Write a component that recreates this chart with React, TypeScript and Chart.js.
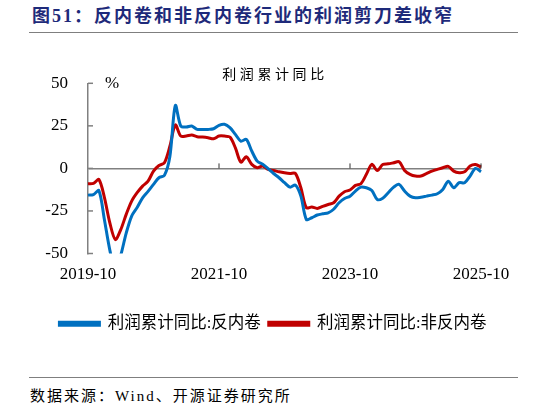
import { useEffect, useRef } from "react"
import { Chart, registerables, type ChartConfiguration, type Plugin } from "chart.js"

Chart.register(...registerables)

// monthly, 2019-10 .. 2025-10
const months: string[] = []
for (let y = 2019; y <= 2025; y++) {
  for (let m = 1; m <= 12; m++) {
    if ((y === 2019 && m < 10) || (y === 2025 && m > 10)) continue
    months.push(`${y}-${String(m).padStart(2, "0")}`)
  }
}

const shownLabels = ["2019-10", "2021-10", "2023-10", "2025-10"]
const yTicks = [50, 25, 0, -25, -50]

// 利润累计同比:反内卷
const antiInvolution = [
  -15.7, -15.4, -13, -30, -48, -60, -51, -38, -28, -23, -17.3, -13.5, -9.4, -5.5, -4.1, 7,
  37, 24.9, 24.3, 24.9, 22.9, 22.9, 22.9, 23.3, 25.3, 25.9, 23.9, 20, 16, 17, 10.2, 4.3,
  2.4, -0.2, -3, -5.5, -8.4, -11, -9.8, -16.3, -30, -29, -27.4, -26.7, -26.1, -24, -20.2, -17.7,
  -16.3, -13.3, -11, -11.4, -13, -18.3, -17.5, -14.3, -11, -9.4, -13.3, -16.3, -17.3, -16.9, -16.3, -15.7,
  -14.9, -12.4, -7.5, -11.4, -8.4, -8.4, -4.5, 0, -2,
]

// 利润累计同比:非反内卷
const nonAntiInvolution = [
  -9, -8.8, -6.5, -17, -32, -41.8, -36, -27, -19.2, -14.3, -10.4, -7.5, -1.6, 1.7, 3.3, 13,
  25.5, 19, 19, 19.6, 18.6, 18.4, 18, 17.4, 19, 19, 18.4, 12.1, 3.7, 6.8, 2.4, 0.4,
  1.4, -0.6, -1.2, -2, -2.6, -3, -3, -11.4, -23.1, -22.7, -23.5, -22.3, -21.2, -20.2, -16.3, -13.7,
  -12.7, -10, -9, -3.5, 2.4, -1.2, 2.3, 2.7, 3.3, 3.9, -1.2, -3.5, -4.5, -4.5, -3.1, -1.6,
  -0.6, 0.4, 1.2, -1.6, -2.5, -2, 1.4, 2.3, 0.8,
]

const FONT = '"Liberation Serif", "Noto Sans CJK SC"'
const chartTitle = "利润累计同比"

// inward y ticks, small x ticks on the zero line, "%" unit and the spaced-out title
const axisMarks: Plugin<"line"> = {
  id: "axisMarks",
  afterDraw(chart) {
    const { ctx, chartArea, scales } = chart
    const x = scales.x
    const y = scales.y
    ctx.save()
    ctx.strokeStyle = "#808080"
    ctx.lineWidth = 1.5
    y.ticks.forEach((_, i) => {
      const py = y.getPixelForTick(i)
      ctx.beginPath()
      ctx.moveTo(chartArea.left, py)
      ctx.lineTo(chartArea.left + 5, py)
      ctx.stroke()
    })
    const zeroY = y.getPixelForValue(0)
    ctx.strokeStyle = "#333"
    ctx.lineWidth = 1
    months.forEach((m, i) => {
      if (i === 0 || !shownLabels.includes(m)) return
      const px = x.getPixelForValue(i)
      ctx.beginPath()
      ctx.moveTo(px, zeroY)
      ctx.lineTo(px, zeroY - 5)
      ctx.stroke()
    })
    ctx.fillStyle = "#000"
    ctx.font = `17px ${FONT}`
    ctx.textBaseline = "middle"
    ctx.textAlign = "center"
    ctx.fillText("%", chartArea.left + 24, y.getPixelForValue(50))

    ctx.font = `14px ${FONT}`
    ;(ctx as any).letterSpacing = "3.6px"
    ctx.fillText(chartTitle, chart.width / 2 + 2, 35)
    ctx.restore()
  },
}

function ProfitChart() {
  const canvasRef = useRef<HTMLCanvasElement>(null)
  const chartInstance = useRef<Chart | null>(null)

  useEffect(() => {
    if (!canvasRef.current) return
    const ctx = canvasRef.current.getContext("2d")
    if (!ctx) return
    if (chartInstance.current) chartInstance.current.destroy()

    const config: ChartConfiguration<"line"> = {
      type: "line",
      data: {
        labels: months,
        datasets: [
          {
            label: "利润累计同比:反内卷",
            data: antiInvolution,
            borderColor: "#0070C0",
            backgroundColor: "#0070C0",
            borderWidth: 3,
            pointRadius: 0,
            tension: 0.3,
          },
          {
            label: "利润累计同比:非反内卷",
            data: nonAntiInvolution,
            borderColor: "#C00000",
            backgroundColor: "#C00000",
            borderWidth: 3,
            pointRadius: 0,
            tension: 0.3,
          },
        ],
      },
      options: {
        responsive: false,
        animation: false,
        layout: { padding: { top: 43.3 } },
        scales: {
          x: {
            grid: { display: false, drawTicks: false },
            border: { display: false },
            afterFit: (scale) => {
              scale.height = 31
            },
            ticks: {
              autoSkip: false,
              maxRotation: 0,
              padding: 11,
              color: "#000",
              font: { family: FONT, size: 17 },
              callback: (_v, i) => (shownLabels.includes(months[i]) ? months[i] : ""),
            },
          },
          y: {
            min: -50,
            max: 50,
            afterBuildTicks: (scale) => {
              scale.ticks = yTicks.map((v) => ({ value: v }))
            },
            afterFit: (scale) => {
              scale.width = 88
            },
            border: { color: "#808080", width: 1.5 },
            grid: {
              drawTicks: false,
              lineWidth: 1.5,
              color: (c) => (c.tick && c.tick.value === 0 ? "#808080" : "transparent"),
            },
            ticks: {
              padding: 20,
              color: "#000",
              font: { family: FONT, size: 17 },
            },
          },
          yRight: {
            position: "right",
            display: true,
            grid: { display: false },
            border: { display: false },
            ticks: { display: false },
            afterFit: (scale) => {
              scale.width = 65
            },
          },
        },
        plugins: {
          title: { display: false },
          legend: {
            position: "bottom",
            // empty legend title only adds the gap above the legend row
            title: { display: true, text: "", font: { size: 23, lineHeight: 1 }, padding: 0 },
            labels: {
              boxWidth: 40,
              boxHeight: 3,
              padding: 8,
              color: "#000",
              font: { family: FONT, size: 16.5 },
            },
          },
          tooltip: { enabled: false },
        },
      },
      plugins: [axisMarks],
    }

    chartInstance.current = new Chart(ctx, config)
    return () => {
      if (chartInstance.current) {
        chartInstance.current.destroy()
        chartInstance.current = null
      }
    }
  }, [])

  return <canvas ref={canvasRef} width={546} height={302} style={{ position: "absolute", left: 0, top: 40, width: 546, height: 302 }} />
}

export default function App() {
  return (
    <div style={{ position: "fixed", left: 0, top: 0, width: 546, height: 408, background: "#fff", overflow: "hidden" }}>
      <div
        style={{
          position: "absolute",
          left: 32,
          top: 4,
          fontFamily: FONT,
          fontWeight: "bold",
          fontSize: 18,
          letterSpacing: 2,
          color: "#1e2a7a",
          whiteSpace: "nowrap",
          lineHeight: "24px",
        }}
      >
        图51：反内卷和非反内卷行业的利润剪刀差收窄
      </div>
      <div style={{ position: "absolute", left: 29, top: 32, width: 489, height: 0, borderTop: "1.5px solid #7f7f7f" }} />
      <ProfitChart />
      <div style={{ position: "absolute", left: 29, top: 377, width: 489, height: 0, borderTop: "1.5px solid #7f7f7f" }} />
      <div
        style={{
          position: "absolute",
          left: 30,
          top: 386,
          fontFamily: FONT,
          fontSize: 15,
          letterSpacing: 2,
          color: "#000",
          whiteSpace: "nowrap",
          lineHeight: "20px",
        }}
      >
        数据来源：Wind、开源证券研究所
      </div>
    </div>
  )
}
